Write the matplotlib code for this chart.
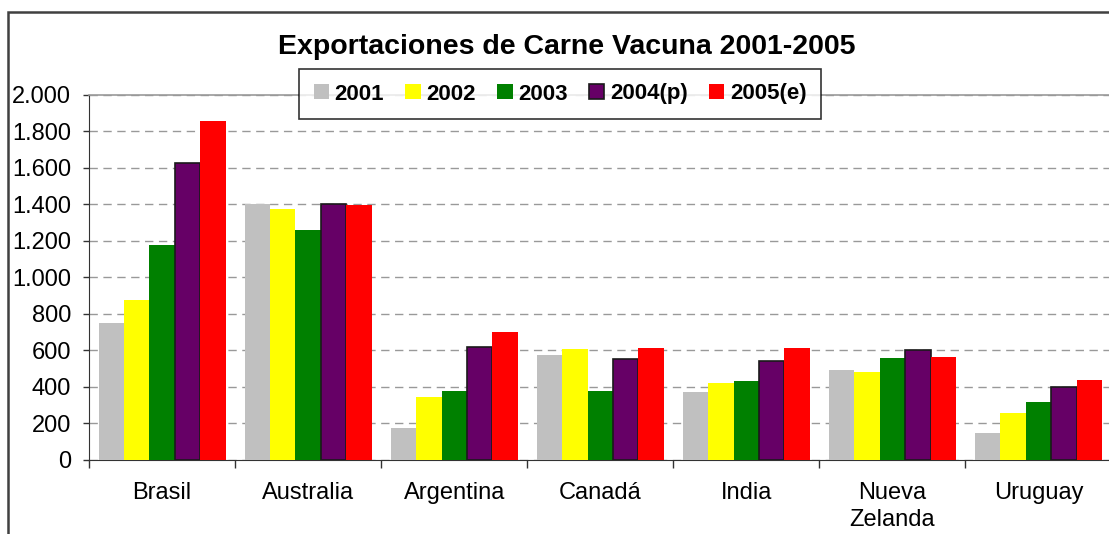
import matplotlib.pyplot as plt
import numpy as np
from matplotlib.patches import Rectangle
from matplotlib.ticker import FuncFormatter, MultipleLocator

plt.rcParams['font.family'] = ['Liberation Sans', 'DejaVu Sans']

# Data
countries = ['Brasil', 'Australia', 'Argentina', 'Canadá', 'India', 'Nueva\nZelanda', 'Uruguay']
series = ['2001', '2002', '2003', '2004(p)', '2005(e)']
v2001 = [750, 1400, 175, 575, 370, 493, 148]
v2002 = [877, 1375, 345, 610, 420, 484, 257]
v2003 = [1178, 1260, 380, 380, 435, 559, 318]
v2004 = [1627, 1400, 620, 555, 540, 603, 402]
v2005 = [1857, 1395, 700, 615, 615, 564, 438]
values = [v2001, v2002, v2003, v2004, v2005]

colors = ['#C0C0C0', '#FFFF00', '#008000', '#660066', '#FF0000']
edges = ['none', 'none', 'none', '#1a1a1a', 'none']

fig = plt.figure(figsize=(11.09, 5.34), dpi=100)
ax = fig.add_axes([0.0803, 0.1386, 0.922, 0.6835])

# outer chart border (partly cut off)
fig.patches.append(Rectangle((8 / 1109, -0.1), 1.2, 1 - 12 / 534 + 0.1, transform=fig.transFigure,
                             fill=False, edgecolor='#404040', linewidth=1.8))

x = np.arange(len(countries))
width = 0.174
for i, (vals, c, e) in enumerate(zip(values, colors, edges)):
    ax.bar(x + (i - 2) * width, vals, width=width, color=c, edgecolor=e,
           linewidth=1.2 if e != 'none' else 0, label=series[i], zorder=3)

ax.set_xlim(-0.5, len(countries) - 0.5)
ax.set_ylim(0, 2000)
ax.yaxis.set_major_locator(MultipleLocator(200))
ax.yaxis.set_major_formatter(FuncFormatter(lambda v, p: f'{int(v):,}'.replace(',', '.')))
ax.grid(axis='y', linestyle=(0, (6, 4)), color='#999999', linewidth=1, zorder=0)

ax.set_xticks(x)
ax.set_xticklabels(countries, fontsize=17, linespacing=1.3)
ax.set_xticks(np.arange(-0.5, len(countries), 1), minor=True)
ax.tick_params(axis='x', which='major', length=0, pad=16)
ax.tick_params(axis='x', which='minor', length=6, direction='out', width=1, color='#333333')
ax.tick_params(axis='y', labelsize=17, length=4, width=1, color='#333333', pad=9)

ax.spines['right'].set_visible(False)
ax.spines['top'].set_color('#999999')
ax.spines['top'].set_linewidth(1.2)
ax.spines['left'].set_color('#333333')
ax.spines['bottom'].set_color('#333333')

fig.text(567 / 1109, 1 - 47 / 534, 'Exportaciones de Carne Vacuna 2001-2005', ha='center', va='center',
         fontsize=20.5, fontweight='bold')

leg = fig.legend(loc='center', bbox_to_anchor=(560 / 1109, 1 - 94 / 534), ncol=5,
                 prop={'weight': 'bold', 'size': 16}, frameon=True, fancybox=False,
                 edgecolor='black', handlelength=0.7, handleheight=0.65, handletextpad=0.25,
                 columnspacing=0.95, borderpad=0.65)
leg.get_frame().set_linewidth(1.2)

fig.savefig('out.png', dpi=100)
